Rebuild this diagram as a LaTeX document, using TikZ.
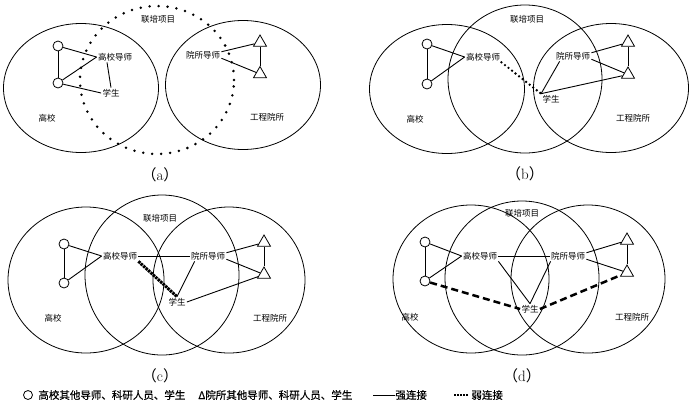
\documentclass[tikz,border=0pt]{standalone}
\usepackage{fontspec}
\newfontfamily\cjk{Noto Sans CJK SC}
\newfontfamily\cjkleg[FakeBold=0.6]{Noto Sans CJK SC}
\usetikzlibrary{shapes.geometric,calc}

\begin{document}
\begin{tikzpicture}[
  x=1pt, y=-1pt, line width=0.8pt,
  lbl/.style={font=\cjk\fontsize{8.5}{10}\selectfont, inner sep=1pt},
  leg/.style={font=\cjkleg\fontsize{10.5}{12}\selectfont, inner sep=0pt, anchor=west},
  captxt/.style={font=\fontsize{15}{17}\selectfont, inner sep=0pt},
  side/.style={draw, ellipse, minimum width=155pt, minimum height=129pt, inner sep=0pt},
  mid/.style={draw, ellipse, minimum width=154pt, minimum height=148pt, inner sep=0pt},
  oc/.style={draw, circle, minimum size=10pt, inner sep=0pt},
  tri/.style={draw, regular polygon, regular polygon sides=3, minimum size=15pt, inner sep=0pt},
  lnk/.style={line width=0.9pt},
  weak/.style={line width=2.6pt, line cap=round, dash pattern=on 0pt off 4.5pt}
]
\useasboundingbox (0,0) rectangle (700,418);

% (a)
\node[side] (aL) at (81,88) {};
\node[mid, weak, line width=2.8pt, dash pattern=on 0pt off 9pt] (aM) at (157,80) {};
\node[side] (aR) at (243,85) {};
\node[lbl] (aproj) at (158,19) {联培项目};
\node[lbl] (agd) at (115,57) {高校导师};
\node[lbl] (axs) at (111,93) {学生};
\node[lbl] (agx) at (47,118) {高校};
\node[lbl] (ayd) at (203,55) {院所导师};
\node[lbl] (agc) at (267,117) {工程院所};
\node[oc] (ac1) at (58,46) {};
\node[oc] (ac2) at (58,83) {};
\node[tri] (at1) at (260,42.5) {};
\node[tri] (at2) at (260,74) {};
\node[captxt] (acap) at (160,175) {{\cjk （}a{\cjk ）}};
\draw[lnk] (ac1) -- (ac2);
\draw[lnk] (ac1) -- (agd.west);
\draw[lnk] (ac2) -- (agd.west);
\draw[lnk] (ac2) -- (axs.west);
\draw[lnk] ($(agd.south)+(-8,0)$) -- (axs.north);
\draw[lnk] (ayd.10) -- (at1);
\draw[lnk] (ayd.-10) -- (at2);
\draw[lnk] (at1) -- (at2);

% (b)
\node[side] (bL) at (447,89) {};
\node[mid] (bM) at (525,79) {};
\node[side] (bR) at (611,88) {};
\node[lbl] (bproj) at (527,19) {联培项目};
\node[lbl] (bgd) at (483,57) {高校导师};
\node[lbl] (bxs) at (551,99) {学生};
\node[lbl] (bgx) at (415,119) {高校};
\node[lbl] (byd) at (573,56) {院所导师};
\node[lbl] (bgc) at (633,118) {工程院所};
\node[oc] (bc1) at (427,44) {};
\node[oc] (bc2) at (427,84) {};
\node[tri] (bt1) at (628,42.5) {};
\node[tri] (bt2) at (628,74.5) {};
\node[captxt] (bcap) at (525,174) {{\cjk （}b{\cjk ）}};
\draw[lnk] (bc1) -- (bc2);
\draw[lnk] (bc1) -- (bgd.west);
\draw[lnk] (bc2) -- (bgd.west);
\draw[weak] (bgd.south east) -- (bxs.north west);
\draw[lnk] ($(byd.south west)+(5,0)$) -- (bxs.north west);
\draw[lnk] (bxs.north west) -- (bt2);
\draw[lnk] (byd.10) -- (bt1);
\draw[lnk] (byd.-10) -- (bt2);
\draw[lnk] (bt1) -- (bt2);

% (c)
\node[side, minimum width=156pt, minimum height=146pt] (cL) at (86,280) {};
\node[mid, minimum height=160pt] (cM) at (162,275) {};
\node[side, minimum width=152pt, minimum height=146pt] (cR) at (229,280) {};
\node[lbl] (cproj) at (160,218) {联培项目};
\node[lbl] (cgd) at (120,256) {高校导师};
\node[lbl] (cyd) at (208,256) {院所导师};
\node[lbl] (cxs) at (177,302) {学生};
\node[lbl] (cgx) at (53,318) {高校};
\node[lbl] (cgc) at (270,318) {工程院所};
\node[oc] (cc1) at (64,244) {};
\node[oc] (cc2) at (64,283) {};
\node[tri] (ct1) at (264,242.5) {};
\node[tri] (ct2) at (264,274.5) {};
\node[captxt] (ccap) at (160,376) {{\cjk （}c{\cjk ）}};
\draw[lnk] (cc1) -- (cc2);
\draw[lnk] (cc1) -- (cgd.west);
\draw[lnk] (cc2) -- (cgd.west);
\draw[lnk] (cgd.east) -- (cyd.west);
\draw[line width=3pt, dash pattern=on 2.5pt off 0.8pt] (cgd.south east) -- (cxs.north);
\draw[lnk] ($(cyd.south west)+(5,0)$) -- (cxs.north);
\draw[lnk] (cxs.east) -- (ct2);
\draw[lnk] (cyd.10) -- (ct1);
\draw[lnk] (cyd.-10) -- (ct2);
\draw[lnk] (ct1) -- (ct2);

% (d)
\node[side, minimum width=156pt, minimum height=148pt] (dL) at (471,279) {};
\node[mid, minimum height=154pt] (dM) at (522,278) {};
\node[side, minimum width=154pt, minimum height=148pt] (dR) at (588,279) {};
\node[lbl] (dproj) at (522,213) {联培项目};
\node[lbl] (dgd) at (480,256) {高校导师};
\node[lbl] (dyd) at (568,256) {院所导师};
\node[lbl] (dxs) at (530,309) {学生};
\node[lbl] (dgx) at (410,317) {高校};
\node[lbl] (dgc) at (632,317) {工程院所};
\node[oc] (dc1) at (425,242) {};
\node[oc] (dc2) at (425,281) {};
\node[tri] (dt1) at (627,240.5) {};
\node[tri] (dt2) at (627,272.5) {};
\node[captxt] (dcap) at (522,376) {{\cjk （}d{\cjk ）}};
\draw[lnk] (dc1) -- (dc2);
\draw[lnk] (dc1) -- (dgd.west);
\draw[lnk] (dc2) -- (dgd.west);
\draw[lnk] (dgd.east) -- (dyd.west);
\draw[lnk] (dgd.south east) -- (dxs.north);
\draw[lnk] ($(dyd.south west)+(1,0)$) -- (dxs.north);
\draw[lnk] (dyd.10) -- (dt1);
\draw[lnk] (dyd.-10) -- (dt2);
\draw[lnk] (dt1) -- (dt2);
\draw[line width=2.5pt, dash pattern=on 7pt off 4pt] (dc2) -- (dxs.west);
\draw[line width=2.5pt, dash pattern=on 7pt off 4pt] (dxs.east) -- (dt2);

% legend
\node[oc, minimum size=9pt] (lc) at (28,395) {};
\node[leg] (lgx) at (38,395) {高校其他导师、科研人员、学生};
\node[leg] (lyd) at (198,395) {Δ院所其他导师、科研人员、学生};
\node[leg] (lstrong) at (395,395) {强连接};
\node[leg] (lweak) at (471,395) {弱连接};
\draw[lnk] (lstrong.west) -- ++(-22,0);
\draw[line width=2pt, dash pattern=on 2pt off 1pt] (lweak.west) ++(-3,0) -- ++(-15,0);
\end{tikzpicture}
\end{document}
